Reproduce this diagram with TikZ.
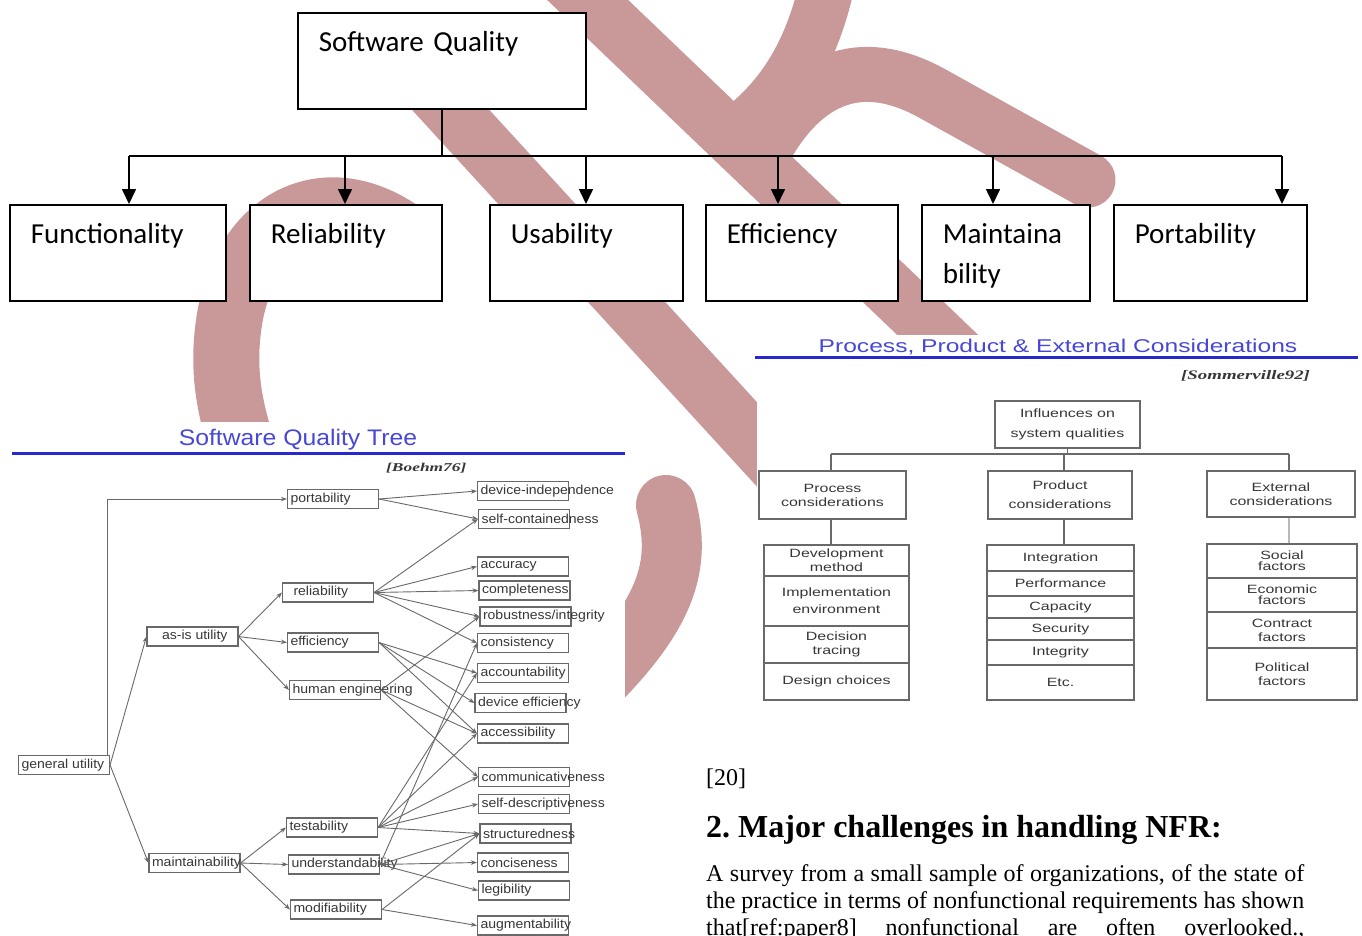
\documentclass[tikz,border=0pt]{standalone}
\usepackage{fontspec}
\usepackage{tikz}
\usetikzlibrary{arrows.meta}

\setmainfont{Liberation Serif}
\newfontfamily\calfont{Carlito}
\newfontfamily\treefont[FakeStretch=1.08]{Liberation Sans}
\newfontfamily\titlefont[FakeStretch=1.1]{Liberation Sans}
\newfontfamily\widesans[FakeStretch=1.33]{Liberation Sans}
\newfontfamily\wideserif[FakeStretch=1.45]{Liberation Serif}

\definecolor{wmpink}{RGB}{201,152,152}
\definecolor{slideblue}{RGB}{72,72,215}
\definecolor{ruleblue}{RGB}{40,40,205}
\definecolor{boxgray}{RGB}{105,105,105}
\definecolor{txtgray}{RGB}{55,55,55}

\newcommand{\tlbl}[1]{\makebox[85pt][l]{#1}}

\tikzset{
  wm/.style={draw=wmpink, line width=#1, line cap=round},
  qbox/.style={draw, line width=1.6pt, fill=white, anchor=north west, inner xsep=21pt, inner ysep=0pt,
    align=left, text height=39pt, text depth=57pt, font=\calfont\fontsize{29}{40}\selectfont},
  qline/.style={line width=1.6pt},
  qarrow/.style={line width=1.6pt, -{Triangle[length=15pt,width=14pt]}},
  tbox/.style={draw=boxgray, line width=1.1pt, fill=white, inner xsep=3pt, inner ysep=0pt,
    minimum height=19pt, text=txtgray, font=\treefont\fontsize{13}{13}\selectfont},
  pbox/.style={draw=boxgray, line width=1.4pt, fill=white, inner sep=0pt, align=center,
    text=txtgray, font=\widesans\fontsize{12}{14}\selectfont},
  pline/.style={draw=boxgray, line width=1.4pt}
}

\begin{document}
\begin{tikzpicture}[x=1pt,y=-1pt]

      \useasboundingbox (0,0) rectangle (1362,935);
      \fill[white] (0,0) rectangle (1362,935);

      % watermark behind everything
      \draw[wm=56pt] (525,-60) -- (990,385);
      \draw[wm=57pt] (405,60) -- (785,475);
      \draw[wm=55pt] (832,-40) .. controls (818,40) and (790,95) .. (735,135);
      \draw[wm=55pt] (770,140) .. controls (810,75) and (865,55) .. (935,95) -- (1088,180);
      \draw[wm=66pt] (398,232) .. controls (320,180) and (240,225) .. (228,330)
        .. controls (222,380) and (232,420) .. (250,470);
      \draw[wm=60pt] (666,505) .. controls (682,565) and (668,615) .. (585,695);

      % quality characteristics
      \node[qbox, text width=246pt] (sq) at (297,12) {Software Quality};
      \node[qbox, text width=174pt] (fun) at (9,204) {Functionality};
      \node[qbox, text width=150pt] (rel) at (249,204) {Reliability};
      \node[qbox, text width=151pt] (usa) at (489,204) {Usability};
      \node[qbox, text width=150pt] (eff) at (705,204) {Efficiency};
      \node[qbox, text width=126pt] (mai) at (921,204) {Maintaina\\bility};
      \node[qbox, text width=151pt] (por) at (1113,204) {Portability};

      \coordinate (b1) at (129,156);
      \coordinate (b2) at (345,156);
      \coordinate (b3) at (586,156);
      \coordinate (b4) at (778,156);
      \coordinate (b5) at (993,156);
      \coordinate (b6) at (1282,156);

      \draw[qline] (sq.south) -- (sq.south |- b1);
      \draw[qline] (b1) -- (b6);
      \draw[qarrow] (b1) -- (b1 |- fun.north);
      \draw[qarrow] (b2) -- (b2 |- rel.north);
      \draw[qarrow] (b3) -- (b3 |- usa.north);
      \draw[qarrow] (b4) -- (b4 |- eff.north);
      \draw[qarrow] (b5) -- (b5 |- mai.north);
      \draw[qarrow] (b6) -- (b6 |- por.north);

      % Boehm tree slide
      \fill[white] (0,422) rectangle (625,935);
      \node[anchor=base, text=slideblue, font=\titlefont\fontsize{22.5}{24}\selectfont] (ttitle) at (298,445) {Software Quality Tree};
      \draw[ruleblue, line width=3pt] (12,453) -- (625,453);
      \node[anchor=base west, inner sep=0pt, text=txtgray, font=\wideserif\bfseries\itshape\fontsize{12}{13}\selectfont] (boehm) at (386,471) {[Boehm76]};

      \begin{scope}[every node/.style={tbox}]
        \node (gen) at (64,765) {\tlbl{general utility}};
        \node (asis) at (192.5,636.5) {\tlbl{\hspace{12pt}as-is utility}};
        \node (maint) at (194.5,863) {\tlbl{maintainability}};
        \node (port) at (333,499) {\tlbl{portability}};
        \node (reli) at (328,592.5) {\tlbl{\hspace{8pt}reliability}};
        \node (effi) at (333,642.5) {\tlbl{efficiency}};
        \node (human) at (335,690) {\tlbl{human engineering}};
        \node (test) at (332,827.5) {\tlbl{testability}};
        \node (under) at (334,864.5) {\tlbl{understandability}};
        \node (modi) at (336,909.5) {\tlbl{modifiability}};
        \node (devind) at (523,491) {\tlbl{device-independence}};
        \node (selfc) at (524,519) {\tlbl{self-containedness}};
        \node (accu) at (523,566.5) {\tlbl{accuracy}};
        \node (comp) at (524.5,590.5) {\tlbl{completeness}};
        \node (robu) at (525.5,616.5) {\tlbl{robustness/integrity}};
        \node (cons) at (523,643) {\tlbl{consistency}};
        \node (acct) at (523,673) {\tlbl{accountability}};
        \node (deff) at (520.5,703) {\tlbl{device efficiency}};
        \node (accs) at (523,733.5) {\tlbl{accessibility}};
        \node (comm) at (524,777) {\tlbl{communicativeness}};
        \node (sdes) at (524,804) {\tlbl{self-descriptiveness}};
        \node (stru) at (525.5,833.5) {\tlbl{structuredness}};
        \node (conc) at (523,862.5) {\tlbl{conciseness}};
        \node (legi) at (524,890.5) {\tlbl{legibility}};
        \node (augm) at (523,925.5) {\tlbl{augmentability}};
      \end{scope}

      \begin{scope}[every edge/.style={draw=boxgray, line width=0.9pt, -{Stealth[length=6pt,width=4.5pt]}}]
        \path ([xshift=-3pt]gen.north east) edge[to path={|- (\tikztotarget)}] (port.west);
        \path (gen.east) edge (asis.west);
        \path (gen.east) edge (maint.west);
        \path (asis.east) edge (reli.west);
        \path (asis.east) edge (effi.west);
        \path (asis.east) edge (human.west);
        \path (maint.east) edge (test.west);
        \path (maint.east) edge (under.west);
        \path (maint.east) edge (modi.west);

        \path (port.east) edge (devind.west);
        \path (port.east) edge (selfc.west);
        \path (reli.east) edge (selfc.west);
        \path (reli.east) edge (accu.west);
        \path (reli.east) edge (comp.west);
        \path (reli.east) edge (robu.west);
        \path (reli.east) edge (cons.west);
        \path (effi.east) edge (acct.west);
        \path (effi.east) edge (deff.west);
        \path (effi.east) edge (accs.west);
        \path (human.east) edge (robu.west);
        \path (human.east) edge (accs.west);
        \path (human.east) edge (comm.west);
        \path (test.east) edge (acct.west);
        \path (test.east) edge (accs.west);
        \path (test.east) edge (comm.west);
        \path (test.east) edge (sdes.west);
        \path (test.east) edge (stru.west);
        \path (under.east) edge (cons.west);
        \path (under.east) edge (stru.west);
        \path (under.east) edge (conc.west);
        \path (under.east) edge (legi.west);
        \path (modi.east) edge (stru.west);
        \path (modi.east) edge (augm.west);
      \end{scope}

      % Sommerville slide
      \fill[white] (757,335) rectangle (1362,705);
      \node[anchor=base, text=slideblue, font=\widesans\fontsize{18.5}{20}\selectfont] (ptitle) at (1058,352) {Process, Product \& External Considerations};
      \draw[ruleblue, line width=3pt] (755,357) -- (1358,357);
      \node[anchor=base west, inner sep=0pt, text=txtgray, font=\wideserif\bfseries\itshape\fontsize{13}{14}\selectfont] (somm) at (1181,379) {[Sommerville92]};

      \begin{scope}[every node/.style={pbox}]
        \node[minimum width=145pt, minimum height=47pt] (infl) at (1067.5,424.5) {Influences on\\[6pt]system qualities};
        \node[minimum width=147pt, minimum height=48pt] (proc) at (832.5,495) {Process\\considerations};
        \node[minimum width=144pt, minimum height=48pt] (prod) at (1060,495) {Product\\[5pt]considerations};
        \node[minimum width=148pt, minimum height=46pt] (extr) at (1281,494) {External\\considerations};

        \node[minimum width=145pt, minimum height=31pt] (dev) at (836.5,560.5) {Development\\method};
        \node[minimum width=145pt, minimum height=50pt] (impl) at (836.5,601) {Implementation\\[3pt]environment};
        \node[minimum width=145pt, minimum height=37pt] (deci) at (836.5,644.5) {Decision\\tracing};
        \node[minimum width=145pt, minimum height=37pt] (desi) at (836.5,681.5) {Design choices};

        \node[minimum width=147pt, minimum height=26pt] (integ) at (1060.5,558) {Integration};
        \node[minimum width=147pt, minimum height=25pt] (perf) at (1060.5,583.5) {Performance};
        \node[minimum width=147pt, minimum height=22pt] (capa) at (1060.5,607) {Capacity};
        \node[minimum width=147pt, minimum height=22pt] (secu) at (1060.5,629) {Security};
        \node[minimum width=147pt, minimum height=25pt] (intg) at (1060.5,652.5) {Integrity};
        \node[minimum width=147pt, minimum height=35pt] (etc) at (1060.5,682.5) {Etc.};

        \node[minimum width=150pt, minimum height=34pt] (soci) at (1282,561) {Social\\[-3pt]factors};
        \node[minimum width=150pt, minimum height=34pt] (econ) at (1282,595) {Economic\\[-3pt]factors};
        \node[minimum width=150pt, minimum height=36pt] (cont) at (1282,630) {Contract\\factors};
        \node[minimum width=150pt, minimum height=52pt] (poli) at (1282,674) {Political\\factors};
      \end{scope}

      \coordinate (pb1) at (831,454);
      \coordinate (pb2) at (1064,454);
      \coordinate (pb3) at (1289,454);
      \draw[pline] (infl.south) -- (infl.south |- pb1);
      \draw[pline] (pb1) -- (pb3);
      \draw[pline] (pb1) -- (pb1 |- proc.north);
      \draw[pline] (pb2) -- (pb2 |- prod.north);
      \draw[pline] (pb3) -- (pb3 |- extr.north);
      \draw[pline] (proc.south -| pb1) -- (pb1 |- dev.north);
      \draw[pline] (prod.south -| pb2) -- (pb2 |- integ.north);
      \draw[pline, draw=gray!55] (extr.south -| pb3) -- (pb3 |- soci.north);

      % text of the page
      \node[anchor=base west, inner sep=0pt, font=\fontsize{24}{27}\selectfont] (cite) at (706,785) {[20]};
      \node[anchor=base west, inner sep=0pt, font=\bfseries\fontsize{32}{36}\selectfont] (head) at (706,837) {2.\ Major challenges in handling NFR:};
      \node[anchor=base west, inner sep=0pt, text width=598pt, align=justify, font=\fontsize{24}{27}\selectfont] (para) at (706,881)
        {A survey from a small sample of organizations, of the state of\linebreak
         the practice in terms of nonfunctional requirements has shown\linebreak
         \makebox[598pt][s]{that[ref:paper8] nonfunctional are often overlooked.,}};

    \end{tikzpicture}
\end{document}
